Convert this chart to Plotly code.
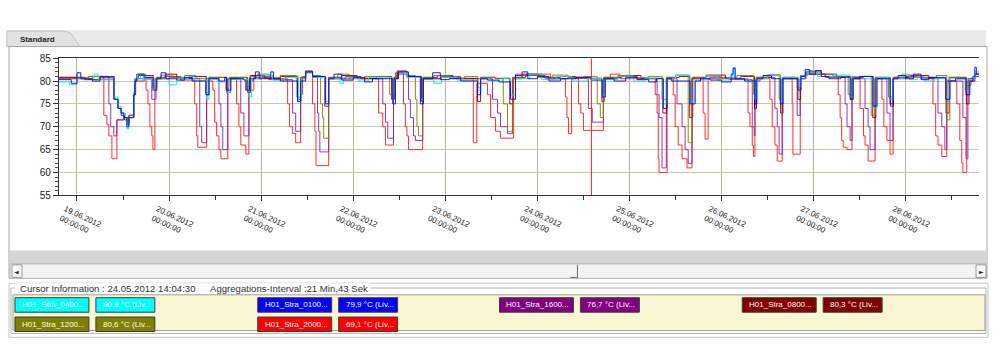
import pandas as pd
import plotly.graph_objects as go

# ---------------- data (hours after 19.06.2012 00:00, value in degC) ----------------
BASE = pd.Timestamp("2012-06-19 00:00:00")
X_START_H = -4.7
X_END_H = 235.1
CURSOR_TIME = "2012-06-24 14:04:30"

RED = [(-4.7,80.8),(3.0,81.0),(7.0,72.5),(7.8,70.5),(8.3,68),(9.1,63),(10.4,71.5),(12.2,72),(13.5,72.5),(14.8,77),(15.1,80),(17.5,80.3),(18.0,78),(18.5,75),(19.0,70),(19.5,68),(19.8,65),(20.3,80.5),(24.0,80.8),(27.0,80.2),(30.7,75),(31.2,68),(31.5,65.5),(33.8,80),(35.4,78),(35.9,71),(36.4,68),(37.0,65),(37.5,63),(39.3,80.5),(41.6,75),(42.2,70),(42.7,66),(44.0,64),(44.8,78),(46.1,80.5),(47.9,81.0),(50.5,80.5),(54.9,75),(55.4,70),(56.2,68.5),(57.0,66.5),(58.3,77),(58.8,81),(59.6,82),(61.4,75),(62.0,69),(62.3,61.5),(65.6,80.5),(71.3,81),(73.9,80.5),(78.6,73),(79.7,70),(80.4,66),(82.5,80.5),(83.0,81.8),(85.1,75),(85.6,70),(86.0,68),(86.4,65),(90.1,80.5),(94.7,80.8),(100.0,80.5),(103.3,66.5),(104.2,79.5),(107.0,77),(107.8,72),(109.1,69),(110.4,67.5),(113.8,80.5),(114.3,81.5),(123.4,80.5),(127.3,76.5),(127.7,72),(128.1,68.5),(128.9,80.5),(130.7,75),(131.3,73),(132.0,69.2),(137.2,80.5),(139.0,81.5),(141.5,80.5),(150.7,77),(151.2,73),(151.5,63),(151.7,60),(153.8,80.5),(155.4,77),(155.9,70),(156.7,66),(157.7,63),(159.0,61),(160.3,80.5),(163.2,73),(163.7,67.3),(164.5,80.5),(174.9,73),(175.4,70),(176.0,66),(176.3,63.5),(176.7,80),(177.0,80.5),(180.6,76),(181.2,70),(181.9,66),(182.5,62.5),(183.8,80.5),(186.4,75),(186.6,64),(188.5,80.5),(189.8,81.5),(195.0,81),(198.4,77),(198.9,72),(199.3,67),(199.7,65.5),(200.7,65),(202.0,80.5),(204.1,74),(205.0,68),(205.4,66),(206.2,62.5),(208.0,80.5),(209.8,76),(210.3,70),(211.1,67),(211.9,64),(212.7,80.5),(213.2,80.8),(223.1,75),(223.8,68),(224.4,66),(225.4,63.5),(226.7,80),(229.3,75),(230.1,67),(230.6,62),(230.9,60),(231.9,79),(233.0,80),(234.0,81),(235.1,81)]

PURPLE = [(-4.7,80.5),(4.0,81.0),(8.3,75),(8.8,70),(9.6,68),(10.4,71.5),(12.2,72),(13.3,71),(13.6,72.5),(14.8,77),(15.3,80.5),(19.5,76),(20.6,80.5),(23.0,81),(27.0,80.5),(32.0,70),(32.5,66.5),(33.8,80.5),(37.0,75),(37.5,70),(38.0,65),(39.3,80.5),(42.7,73),(43.5,68),(44.8,80),(46.0,80.8),(50.0,80.3),(56.2,73),(57.0,69),(58.3,80.5),(59.6,81.8),(61.4,80.8),(62.7,73),(63.0,69),(63.3,64.5),(65.6,80.5),(70.0,81.0),(74.0,80.5),(79.7,75),(80.4,71),(81.0,67.5),(82.5,80.5),(83.5,81.5),(86.4,76),(86.9,72),(87.7,68),(88.2,67),(90.1,80.5),(95.0,81.0),(100.0,80.5),(108.3,76),(109.6,73),(110.4,70),(112.2,68.5),(113.5,80.5),(116.0,81.2),(122.0,80.5),(128.0,80.8),(133.3,74),(134.3,71),(137.2,80.5),(141.0,81),(146.0,80.5),(151.2,77),(151.7,72),(152.5,61),(153.6,80.5),(156.4,75),(157.7,70),(158.5,65),(159.3,62),(160.3,80.5),(165.0,80.8),(170.0,80.3),(176.0,70),(176.5,68),(176.7,80),(178.0,80.8),(181.9,74),(182.5,70),(183.0,64),(183.8,80.5),(187.7,72.5),(188.5,80.5),(190.0,81.5),(195.0,80.8),(200.2,75),(200.7,70),(201.5,67),(202.0,80.5),(205.4,74),(206.2,70),(206.7,65),(208.0,80.5),(211.1,73),(211.9,67),(212.7,80.5),(216.0,81),(220.0,80.5),(224.4,73),(225.4,70),(226.2,65),(226.7,80),(230.9,72),(231.7,63),(232.2,80),(234.0,81),(235.1,81)]

OLIVE = [(-4.7,80.5),(3.0,81.0),(6.0,80.3),(9.8,76),(10.7,74),(11.5,73),(12.2,72),(13.2,70.5),(13.6,72.5),(14.8,77.5),(15.1,80.5),(16.0,81.5),(18.0,80.8),(20.0,79),(20.8,80.8),(22.0,81.3),(25.0,80.8),(28.0,81.2),(31.0,80.6),(33.6,77.5),(34.4,80.8),(38.8,78),(39.6,80.8),(44.2,78),(45.0,81.0),(47.0,81.5),(50.0,80.8),(53.0,81.2),(57.3,76.5),(58.3,80.8),(59.6,82),(61.4,81.2),(63.5,75),(64.0,72),(64.3,67.5),(65.6,80.8),(68.0,81.5),(71.0,80.5),(75.0,81.0),(81.5,77),(82.5,80.8),(83.3,82),(86.0,81.2),(88.2,76),(88.6,70),(89.0,68),(90.1,80.8),(93.0,81.2),(97.0,80.6),(101.0,81.0),(104.5,78.5),(105.2,80.8),(109.0,80.5),(111.1,75),(112.2,69),(113.5,80.8),(116.0,81.5),(120.0,80.8),(124.0,81.3),(128.0,80.8),(132.0,81.0),(135.6,75),(136.4,72),(137.2,80.8),(141.0,81.2),(145.0,80.8),(149.0,81.0),(152.5,76),(153.6,80.8),(156.0,81.3),(159.3,66.5),(160.3,80.8),(164.0,81.0),(168.0,80.6),(172.0,81.2),(176.3,77),(177.0,80.8),(180.0,81.3),(183.0,76),(183.8,80.8),(187.7,78.5),(188.5,81.0),(190.0,82),(193.0,81.5),(197.0,81.0),(201.0,77),(202.0,81.0),(207.0,72.5),(208.0,80.8),(211.5,76.5),(212.7,80.8),(216.0,81.3),(220.0,80.8),(224.0,81.2),(226.7,71.5),(227.5,80.8),(231.5,78),(232.2,80.6),(234.0,81.5),(235.1,81.5)]

MAROON = [(-4.7,80.8),(2.0,80.3),(6.0,81.0),(9.7,76),(10.7,74),(11.5,72.5),(12.4,71.5),(13.3,70.5),(13.6,72),(14.8,77),(15.1,80.5),(16.0,81.2),(19.9,78.5),(20.7,80.8),(23.0,81.5),(26.0,80.6),(30.0,81.0),(33.7,77),(34.4,80.8),(39.0,77.5),(40.0,80.8),(44.5,77.5),(45.2,81.2),(49.0,80.6),(53.0,81.0),(57.5,76),(58.3,80.8),(59.6,82.2),(61.4,81.0),(64.6,74.5),(65.6,80.8),(69.0,81.2),(73.0,80.6),(78.0,81.0),(82.0,76),(82.8,80.8),(83.5,82.2),(86.0,81.0),(89.8,75.5),(90.3,80.8),(94.0,81.2),(98.0,80.6),(104.4,75.5),(105.2,80.8),(109.0,80.6),(112.8,75),(113.6,80.8),(117.0,81.5),(121.0,80.8),(126.0,81.0),(130.0,80.6),(136.8,75.5),(137.4,80.8),(142.0,81.2),(147.0,80.6),(152.7,73),(153.7,80.8),(157.0,81.0),(159.7,72),(160.5,80.8),(164.0,81.3),(169.0,80.6),(173.0,81.0),(176.6,74),(177.1,80.8),(181.0,81.3),(183.4,73),(184.0,80.8),(187.9,76),(188.6,81.2),(190.0,82.0),(194.0,81.5),(198.0,81.0),(201.7,76),(202.2,80.8),(205.0,81.0),(207.4,72),(208.2,80.8),(212.0,74.5),(212.8,80.8),(217.0,81.2),(222.0,80.6),(226.5,73),(227.3,80.8),(231.8,75),(232.5,80.5),(234.0,81.5),(235.1,81.5)]

BLUE = [(-4.7,80.3),(-1.5,79.5),(0.0,81.8),(1.0,80.5),(4.0,80.0),(6.0,80.7),(9.6,76),(10.7,74),(11.5,73),(12.2,72),(13.0,70),(13.5,72),(14.8,77),(15.1,80),(15.6,81.5),(17.5,80.8),(19.8,78),(20.8,80.5),(21.9,81.8),(23.2,80.5),(26.0,80.2),(28.0,80.8),(30.0,80.0),(33.6,77),(34.4,80.5),(37.0,80.0),(38.5,80.8),(39.0,78),(40.1,80.5),(43.5,80.2),(44.0,78),(45.0,80.5),(46.5,82),(47.5,80.5),(50.5,82),(51.2,80.5),(53.0,80.0),(57.5,75.5),(58.3,80),(59.6,82),(61.4,81),(64.8,75),(65.6,80.5),(67.0,81.5),(69.0,80.2),(72.0,80.8),(75.0,79.8),(77.0,80.5),(82.3,75),(83.0,80.5),(83.8,82),(86.4,81),(89.5,75),(90.3,80.5),(92.7,81.8),(94.7,80.3),(97.0,80.5),(100.0,80.0),(104.4,77),(105.2,80.5),(107.0,80.2),(110.0,79.8),(113.0,76),(114.3,81.2),(116.0,82),(117.5,80.5),(120.0,81.0),(123.0,80.0),(126.0,80.5),(130.0,80.8),(134.0,80.2),(136.9,76.5),(137.7,80.5),(140.0,80.0),(143.0,80.8),(146.0,80.3),(149.0,79.8),(151.0,80.5),(152.8,74),(153.8,80.5),(155.0,80.0),(159.8,75),(161.1,80.0),(162.5,80.5),(165.0,80.2),(168.0,79.8),(170.5,81.5),(171.0,82.8),(171.5,80.5),(174.0,80.0),(176.7,75),(177.2,80.5),(178.8,81.2),(181.0,80.5),(183.3,75),(184.0,80.5),(187.9,78),(188.7,81),(189.8,82.5),(191.0,81.5),(192.5,82.3),(194.0,81.0),(196.0,80.5),(199.0,80.8),(201.5,76),(202.3,80.5),(204.0,81.0),(207.5,74.5),(208.5,80.5),(211.9,75),(212.7,80.5),(214.0,81.2),(216.0,80.5),(218.0,81.5),(220.0,80.3),(222.0,80.8),(226.4,76),(227.5,80.0),(229.0,80.5),(231.7,77),(232.7,80.0),(233.5,81.0),(234.0,83.0),(234.4,81.5),(235.1,81.5)]

CYAN = [(-4.7,79.8),(-2.0,79.2),(0.0,80.6),(4.5,81.5),(5.5,80.3),(9.6,76.5),(10.7,74.5),(11.5,73),(12.6,71.5),(13.0,69.5),(13.5,72),(14.8,77.5),(15.1,80.5),(16.5,81.5),(17.3,80.3),(19.8,78.5),(20.8,80.5),(24.0,79.2),(26.0,80.5),(29.0,81.0),(30.5,80.2),(33.8,76),(34.4,80.5),(36.5,79.8),(39.0,77.5),(40.1,80.3),(44.8,76.5),(45.5,80.5),(48.0,81.3),(51.0,80.2),(54.0,80.8),(57.8,75.5),(58.5,80.5),(59.6,81.8),(61.4,80.8),(64.8,75.5),(65.6,80.5),(68.5,79.5),(69.5,80.8),(73.5,80.0),(76.0,80.8),(82.3,76),(83.0,80.5),(83.8,81.8),(86.0,80.8),(89.5,76),(90.3,80.3),(93.0,79.5),(95.0,80.8),(99.0,80.2),(104.4,78),(105.2,80.5),(108.0,80.0),(111.0,80.6),(113.0,77),(114.3,80.5),(118.0,81.5),(121.0,80.3),(125.0,81.0),(129.0,80.0),(133.0,80.5),(136.9,77),(137.7,80.3),(141.0,81.0),(145.0,80.0),(148.0,80.6),(152.8,75),(153.8,80.5),(156.0,81.3),(159.8,75.5),(161.1,80.2),(164.0,81.0),(167.0,80.2),(170.0,80.8),(171.0,83.0),(171.6,80.5),(175.0,79.8),(176.7,76),(177.2,80.5),(180.0,81.2),(183.3,75.5),(184.0,80.8),(187.9,79),(188.7,81.2),(190.5,82.3),(193.0,81.0),(197.0,81.3),(201.5,76.5),(202.3,81),(205.0,80.5),(207.5,74),(208.5,80.8),(211.9,76),(212.7,80.5),(215.0,81.5),(217.0,80.3),(219.0,81.0),(221.0,80.0),(223.5,80.6),(226.4,76.5),(227.5,80.5),(231.7,78),(232.7,80.3),(234.0,82),(235.1,82)]

TICK_DAYS = ["2012-06-19", "2012-06-20", "2012-06-21", "2012-06-22", "2012-06-23",
             "2012-06-24", "2012-06-25", "2012-06-26", "2012-06-27", "2012-06-28"]
TICK_LABELS = ["19.06.2012<br>00:00:00", "20.06.2012<br>00:00:00", "21.06.2012<br>00:00:00",
               "22.06.2012<br>00:00:00", "23.06.2012<br>00:00:00", "24.06.2012<br>00:00:00",
               "25.06.2012<br>00:00:00", "26.06.2012<br>00:00:00", "27.06.2012<br>00:00:00",
               "28.06.2012<br>00:00:00"]
Y_TICKS = [55, 60, 65, 70, 75, 80, 85]

LEGEND_NAMES = ["H01_Stra_0400...", "H01_Stra_0100...", "H01_Stra_1600...", "H01_Stra_0800...",
                "H01_Stra_1200...", "H01_Stra_2000..."]
LEGEND_VALUES = ["80,9 °C (Liv...", "79,9 °C (Liv...", "76,7 °C (Liv...", "80,3 °C (Liv...",
                 "80,6 °C (Liv...", "69,1 °C (Liv..."]
CURSOR_TEXT = "Cursor Information : 24.05.2012 14:04:30"
AGG_TEXT = "Aggregations-Interval :21 Min,43 Sek"

# ---------------- styling ----------------
C_RED, C_PURPLE, C_OLIVE, C_MAROON, C_BLUE, C_CYAN = "#ff1a1a", "#8e24a0", "#808000", "#800000", "#0000ff", "#00e8f0"
LEG_COLORS = ["#00ffff", "#0000ff", "#800080", "#800000", "#808000", "#ff0000"]
FONT = "Liberation Sans, Arial, sans-serif"
W, H = 1000, 352


def to_time(hours):
    return [BASE + pd.Timedelta(hours=h) for h in hours]


def px(x):
    return x / W


def py(y):
    return 1 - y / H


fig = go.Figure()
series = [(RED, C_RED), (PURPLE, C_PURPLE), (MAROON, C_MAROON), (OLIVE, C_OLIVE), (CYAN, C_CYAN), (BLUE, C_BLUE)]
for data, col in series:
    hrs = [p[0] for p in data]
    vals = [p[1] for p in data]
    fig.add_trace(go.Scatter(x=to_time(hrs), y=vals, mode="lines", line=dict(color=col, width=1, shape="hv"),
                             opacity=0.9, hoverinfo="skip"))

shapes = []


def rect(x0, y0, x1, y1, fill=None, line=None, lw=1):
    shapes.append(dict(type="rect", xref="paper", yref="paper", x0=px(x0), x1=px(x1), y0=py(y1), y1=py(y0),
                       fillcolor=fill if fill else "rgba(0,0,0,0)",
                       line=dict(color=line if line else "rgba(0,0,0,0)", width=lw if line else 0),
                       layer="below"))


def hline(x0, x1, y, col, lw=1):
    shapes.append(dict(type="line", xref="paper", yref="paper", x0=px(x0), x1=px(x1), y0=py(y), y1=py(y),
                       line=dict(color=col, width=lw)))


def vline(x, y0, y1, col, lw=1):
    shapes.append(dict(type="line", xref="paper", yref="paper", x0=px(x), x1=px(x), y0=py(y0), y1=py(y1),
                       line=dict(color=col, width=lw)))


# tab bar
rect(5, 25, 986, 42, fill="#e9e9e9")
shapes.append(dict(type="path", xref="paper", yref="paper", layer="below",
                   path=f"M {px(6)},{py(42)} L {px(6)},{py(26)} L {px(64)},{py(26)} "
                        f"Q {px(70)},{py(27)} {px(73)},{py(33)} L {px(79)},{py(42)} Z",
                   fillcolor="#e2e2e2", line=dict(color="#c4c4c4", width=1)))
# chart panel
rect(8, 42, 987, 282, fill="white", line="#a8a8a8")
rect(9, 253, 986, 267, fill="#d5d5d5")
# scrollbar
rect(9, 267, 986, 282, fill="#f3f3f3", line="#b8b8b8")
rect(11, 268, 21, 281, fill="#f7f7f7", line="#9a9a9a")
rect(976, 268, 986, 281, fill="#f7f7f7", line="#9a9a9a")
vline(577, 268, 281, "#6a6a6a")
hline(570, 577, 281, "#6a6a6a")
# cursor information group
rect(8, 287, 988, 343, fill="white", line="#c6c6c6")
rect(10, 292, 986, 339, line="#b4b4b4")
rect(14, 287, 370, 297, fill="white")
rect(12, 299, 985, 336, fill="#f8f6d3", line="#9c9c9c")

annotations = []
annotations.append(dict(text="<b>Standard</b>", x=px(17), y=py(35), xref="paper", yref="paper", xanchor="left",
                        yanchor="middle", showarrow=False, font=dict(family=FONT, size=8, color="#222")))
annotations.append(dict(text="◄", x=px(16), y=py(274.5), xref="paper", yref="paper", xanchor="center",
                        yanchor="middle", showarrow=False, font=dict(family="DejaVu Sans", size=6, color="#222")))
annotations.append(dict(text="►", x=px(981), y=py(274.5), xref="paper", yref="paper", xanchor="center",
                        yanchor="middle", showarrow=False, font=dict(family="DejaVu Sans", size=6, color="#222")))
annotations.append(dict(text=CURSOR_TEXT, x=px(17), y=py(292), xref="paper", yref="paper", xanchor="left",
                        yanchor="middle", showarrow=False, font=dict(family=FONT, size=9.6, color="#333")))
annotations.append(dict(text=AGG_TEXT, x=px(207), y=py(292), xref="paper", yref="paper", xanchor="left",
                        yanchor="middle", showarrow=False, font=dict(family=FONT, size=9.6, color="#333")))

# legend boxes (cursor values)
COL_X = [14, 257, 499, 742]
ROW_Y = [302, 322]
slots = [(0, 0), (0, 1), (0, 2), (0, 3), (1, 0), (1, 1)]
for i, (r, c) in enumerate(slots):
    x0 = COL_X[c]
    y0 = ROW_Y[r]
    rect(x0, y0, x0 + 74, y0 + 15, fill=LEG_COLORS[i], line="#3c3c3c")
    rect(x0 + 81, y0, x0 + 140, y0 + 15, fill=LEG_COLORS[i], line="#3c3c3c")
    annotations.append(dict(text=LEGEND_NAMES[i], x=px(x0 + 5), y=py(y0 + 7.5), xref="paper", yref="paper",
                            xanchor="left", yanchor="middle", showarrow=False,
                            font=dict(family=FONT, size=8, color="white")))
    annotations.append(dict(text=LEGEND_VALUES[i], x=px(x0 + 86), y=py(y0 + 7.5), xref="paper", yref="paper",
                            xanchor="left", yanchor="middle", showarrow=False,
                            font=dict(family=FONT, size=8, color="white")))

# cursor line in the chart
shapes.append(dict(type="line", xref="x", yref="y", x0=CURSOR_TIME, x1=CURSOR_TIME, y0=55, y1=85,
                   line=dict(color="#ff2020", width=1), layer="above"))

x_start = BASE + pd.Timedelta(hours=X_START_H)
x_end = BASE + pd.Timedelta(hours=X_END_H)
minor_vals = [pd.Timestamp(d) - pd.Timedelta(hours=12) for d in TICK_DAYS] + [pd.Timestamp(TICK_DAYS[-1]) + pd.Timedelta(hours=12)]

fig.update_layout(
    width=W, height=H, margin=dict(l=0, r=0, t=0, b=0),
    paper_bgcolor="white", plot_bgcolor="#f9f7d0", showlegend=False,
    shapes=shapes, annotations=annotations,
    xaxis=dict(domain=[px(58), px(979)], type="date", range=[x_start, x_end], fixedrange=True,
               tickvals=TICK_DAYS, ticktext=TICK_LABELS, tickangle=25, ticks="outside", ticklen=5,
               tickcolor="#333", showline=True, linecolor="#333", linewidth=1, mirror=True,
               showgrid=True, gridcolor="#b8b5a0", gridwidth=1, zeroline=False,
               tickfont=dict(family=FONT, size=8, color="#222"), ticklabelshift=-12, ticklabelstandoff=0,
               minor=dict(tickvals=minor_vals, ticks="outside", ticklen=4, tickcolor="#333", showgrid=False)),
    yaxis=dict(domain=[py(196), py(54)], range=[55, 85], fixedrange=True, tickvals=Y_TICKS, ticks="outside",
               ticklen=5, tickcolor="#333", showline=True, linecolor="#333", linewidth=1,
               showgrid=True, gridcolor="#cdc9a4", gridwidth=1, zeroline=False,
               tickfont=dict(family=FONT, size=10, color="#222"),
               minor=dict(dtick=1, ticks="outside", ticklen=3, tickcolor="#555", showgrid=False)),
)

fig.write_html("out.html")
